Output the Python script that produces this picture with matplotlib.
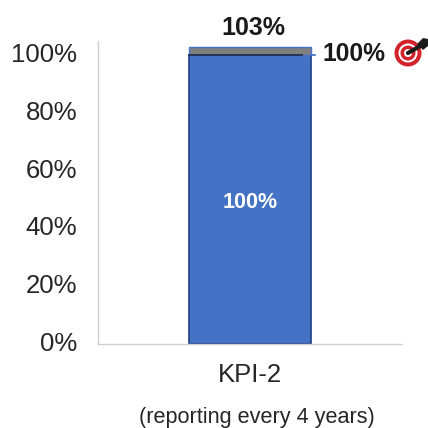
import matplotlib
matplotlib.use('Agg')
import matplotlib.pyplot as plt
from matplotlib.patches import Circle, Polygon
from matplotlib.transforms import ScaledTranslation

plt.rcParams['font.family'] = ['Liberation Sans', 'DejaVu Sans']

# -------------------------
# Chart values
# -------------------------
categories = ['KPI-2']
actual = [100]
excess = [3]
total_label = '103%'
inner_label = '100%'
target = 100
target_label = '100%'
yticks = [0, 20, 40, 60, 80, 100]
ytick_labels = ['0%', '20%', '40%', '60%', '80%', '100%']
note = '(reporting every 4 years)'

W = 428.0
fig = plt.figure(figsize=(4.28, 4.28), dpi=100)
ax = fig.add_axes([98 / W, 1 - 344 / W, 304 / W, 303 / W])

# -------------------------
# Bars
# -------------------------
ax.bar(categories, actual, width=0.401, color='#4472C4', edgecolor='#1F3F7F', linewidth=1.2, zorder=2)
ax.bar(categories, excess, bottom=actual, width=0.401, color='#7F7F7F', edgecolor='#4472C4', linewidth=1.0, zorder=2)
ax.set_xlim(-0.5, 0.5)
ax.set_ylim(0, 105)

# target line, stops a bit short of the bar's right edge, tick sticks out past it
ax.plot([-0.2, 0.17], [target, target], color='#1A2A4A', linewidth=1.2, zorder=3)
ax.plot([0.2, 0.215], [target, target], color='#4472C4', linewidth=1.2, zorder=3, clip_on=False)

ax.set_yticks(yticks)
ax.set_yticklabels(ytick_labels, fontsize=18.5, color='#262626')
ax.set_xticks([0])
ax.set_xticklabels(categories, fontsize=18.5, color='#262626')
ax.tick_params(axis='both', length=0)
ax.tick_params(axis='y', pad=15)
ax.tick_params(axis='x', pad=14)
# y labels sit slightly above their gridline position in the original
nudge = ScaledTranslation(0, 2 / 72, fig.dpi_scale_trans)
for lab in ax.get_yticklabels():
    lab.set_transform(lab.get_transform() + nudge)
for s in ['top', 'right']:
    ax.spines[s].set_visible(False)
for s in ['left', 'bottom']:
    ax.spines[s].set_color('#D0D0D0')
    ax.spines[s].set_linewidth(1.0)

# -------------------------
# Labels
# -------------------------
ax.text(0, 49.2, inner_label, ha='center', va='center', fontsize=15.5, fontweight='bold', color='white', zorder=4)
fig.text(253.5 / W, 1 - 28 / W, total_label, ha='center', va='center', fontsize=18, fontweight='bold', color='#1A1A1A')
fig.text(354 / W, 1 - 54 / W, target_label, ha='center', va='center', fontsize=17.7, fontweight='bold', color='#1A1A1A')
fig.text(256.5 / W, 1 - 417 / W, note, ha='center', va='center', fontsize=15.6, color='#262626')

# -------------------------
# Target icon
# -------------------------
icon = fig.add_axes([0, 0, 1, 1], facecolor='none')
icon.set_xlim(0, W)
icon.set_ylim(W, 0)
icon.axis('off')
cx, cy = 408, 53
for r, c in [(13.5, '#D2232A'), (9.5, 'white'), (7.5, '#D2232A'), (4, 'white')]:
    icon.add_patch(Circle((cx, cy), r, color=c, lw=0))
icon.plot([cx, 422], [cy, 45], color='#1A1A1A', linewidth=3.0, solid_capstyle='round')
icon.add_patch(Polygon([(417, 44), (423, 38), (428, 39), (428, 46), (423, 50)], closed=True, color='#1A1A1A', lw=0))

fig.savefig('out.png', dpi=100)
